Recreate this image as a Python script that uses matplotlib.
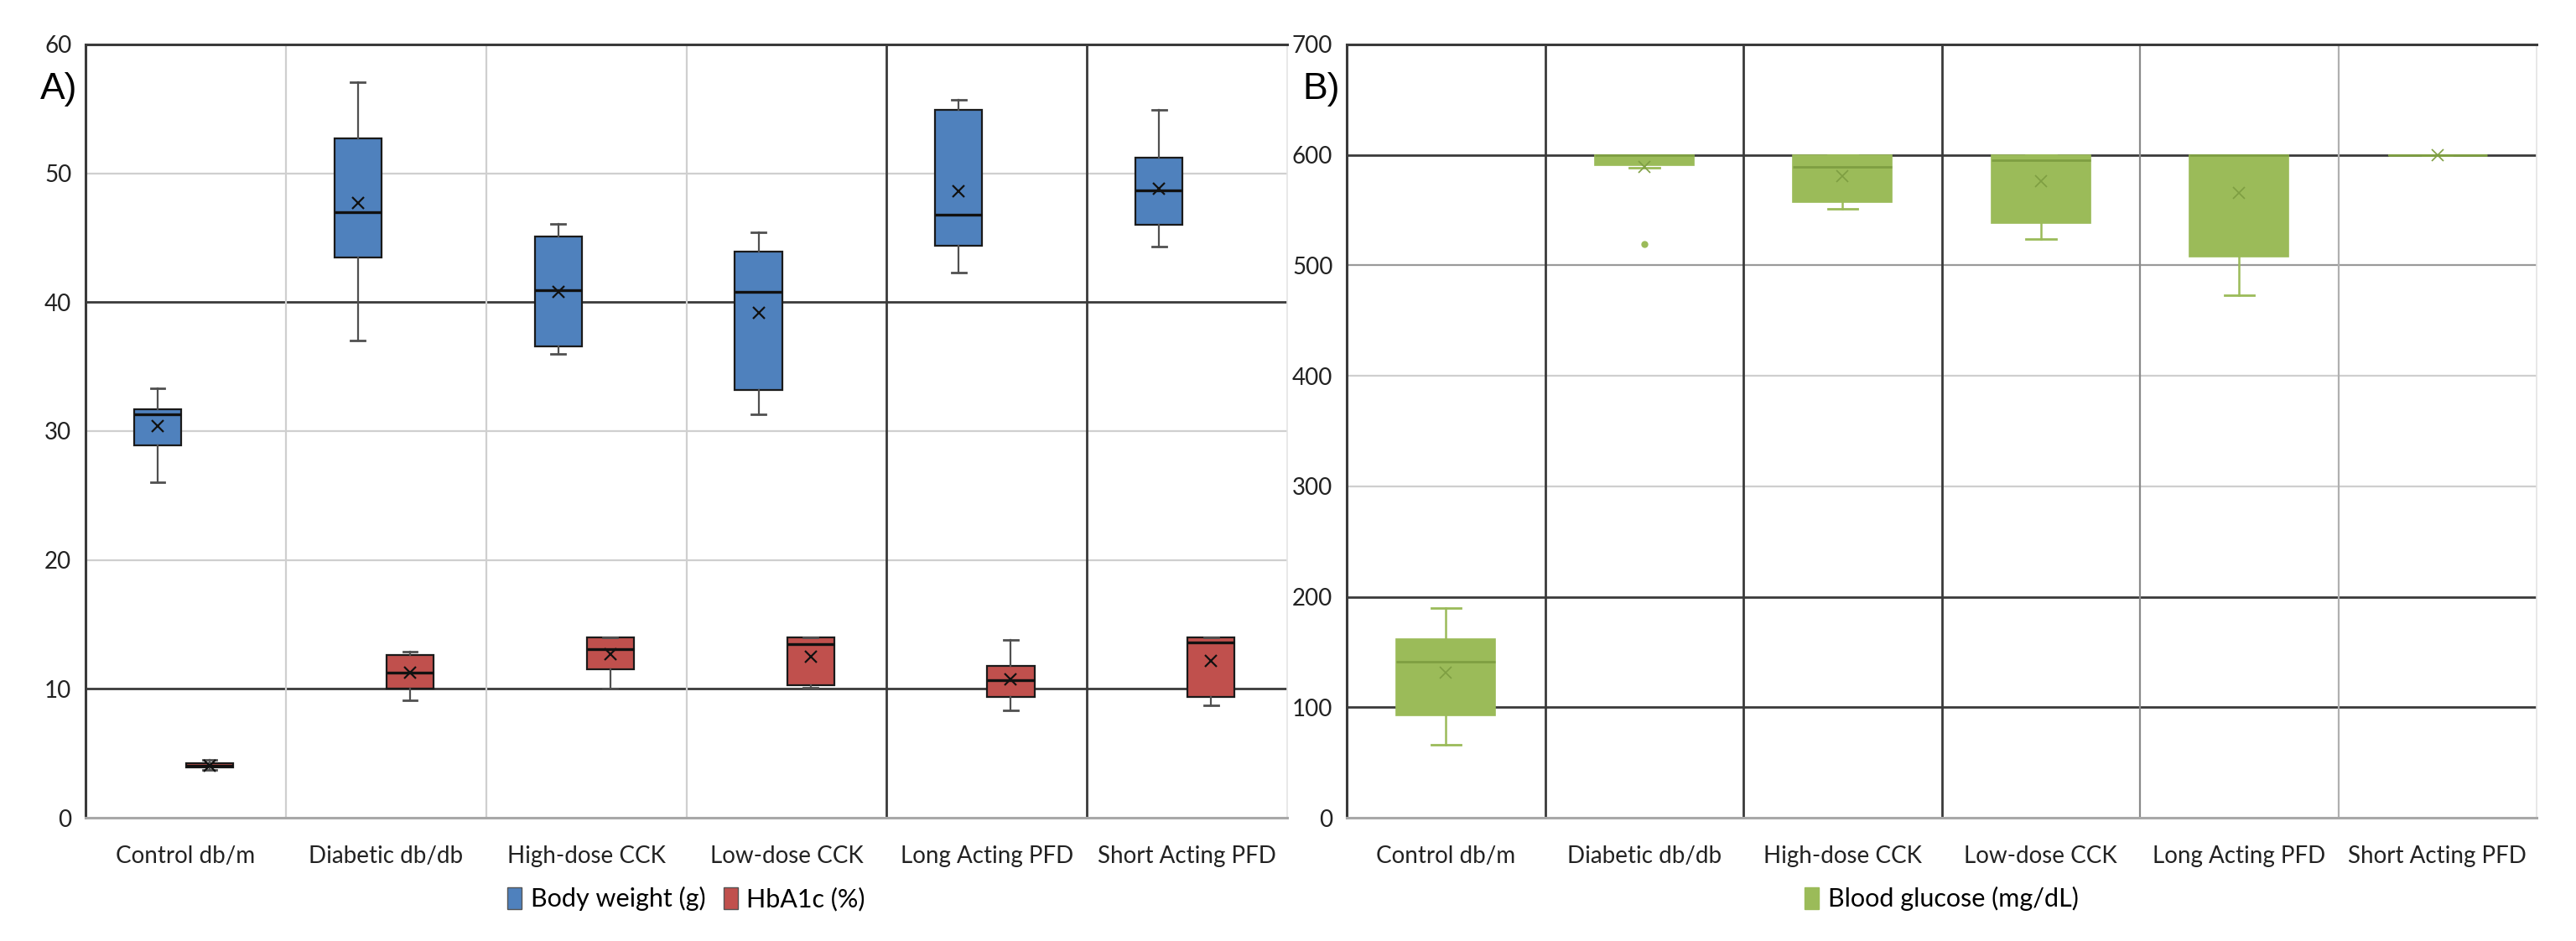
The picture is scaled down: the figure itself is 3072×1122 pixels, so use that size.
import matplotlib
matplotlib.use("Agg")
import matplotlib.pyplot as plt
from matplotlib.patches import Patch

plt.rcParams["font.family"] = ["Lato", "DejaVu Sans"]

GROUPS = ["Control db/m", "Diabetic db/db", "High-dose CCK",
          "Low-dose CCK", "Long Acting PFD", "Short Acting PFD"]

# panel A - body weight (g)
bw_whislo = [26.0, 37.0, 36.0, 31.3, 42.3, 44.3]
bw_q1 = [28.9, 43.5, 36.6, 33.2, 44.4, 46.0]
bw_med = [31.3, 47.0, 40.9, 40.8, 46.8, 48.7]
bw_q3 = [31.7, 52.7, 45.1, 43.9, 54.9, 51.2]
bw_whishi = [33.3, 57.1, 46.1, 45.4, 55.7, 54.9]
bw_mean = [30.4, 47.7, 40.8, 39.2, 48.6, 48.8]

# panel A - HbA1c (%)
hb_whislo = [3.7, 9.1, 10.0, 10.1, 8.35, 8.7]
hb_q1 = [3.9, 10.0, 11.55, 10.3, 9.4, 9.4]
hb_med = [4.05, 11.25, 13.1, 13.45, 10.7, 13.6]
hb_q3 = [4.2, 12.6, 14.0, 14.0, 11.8, 14.0]
hb_whishi = [4.5, 12.9, 14.0, 14.0, 13.8, 14.0]
hb_mean = [4.05, 11.25, 12.7, 12.5, 10.75, 12.2]

# panel B - blood glucose (mg/dL), meter tops out at 600
bg_whislo = [66, 588, 551, 524, 473, 600]
bg_q1 = [93, 591, 557, 538, 508, 600]
bg_med = [141, 600, 589, 595.5, 600, 600]
bg_q3 = [162, 600, 600, 600, 600, 600]
bg_whishi = [189.5, 600, 600, 600, 600, 600]
bg_mean = [131.6, 589, 581, 576, 565.6, 600]
bg_fliers = [[], [519], [], [], [], []]

A_YTICKS = [0, 10, 20, 30, 40, 50, 60]
B_YTICKS = [0, 100, 200, 300, 400, 500, 600, 700]

BLUE = "#4F81BD"
RED = "#C0504D"
GREEN = "#9BBB59"
GREEN_DARK = "#7E9E42"
DARK = "#3a3a3a"
LIGHT = "#cfcfcf"

# the scanned figure has an odd mix of dark and pale grid lines; copy it
A_HGRID = {10: DARK, 20: LIGHT, 30: LIGHT, 40: DARK, 50: LIGHT}
A_VGRID = [LIGHT, LIGHT, LIGHT, DARK, DARK]
B_HGRID = {100: DARK, 200: DARK, 300: LIGHT, 400: LIGHT, 500: "#9a9a9a", 600: DARK}
B_VGRID = [DARK, DARK, DARK, "#8a8a8a", "#b0b0b0"]


def make_stats(lo, q1, med, q3, hi, mean, fliers=None):
    stats = []
    for i in range(len(lo)):
        stats.append(dict(whislo=lo[i], q1=q1[i], med=med[i], q3=q3[i], whishi=hi[i],
                          mean=mean[i], fliers=fliers[i] if fliers else []))
    return stats


def style_axes(ax, yticks, hgrid, vgrid, top_color):
    n = len(GROUPS)
    ax.set_xlim(-0.5, n - 0.5)
    ax.set_ylim(yticks[0], yticks[-1])
    for y, c in hgrid.items():
        ax.axhline(y, color=c, lw=2 if c == DARK else 1.6, zorder=0)
    for i, c in enumerate(vgrid):
        ax.axvline(i + 0.5, color=c, lw=2 if c == DARK else 1.6, zorder=0)
    ax.set_xticks(range(n))
    ax.set_xticklabels(GROUPS)
    ax.set_yticks(yticks)
    ax.tick_params(axis="both", length=0, labelsize=20, colors="#222222")
    ax.tick_params(axis="x", pad=24)
    ax.tick_params(axis="y", pad=12)
    ax.spines["left"].set_color(DARK)
    ax.spines["left"].set_linewidth(2.2)
    ax.spines["top"].set_color(top_color)
    ax.spines["top"].set_linewidth(2.2)
    ax.spines["bottom"].set_color("#a8a8a8")
    ax.spines["bottom"].set_linewidth(2.2)
    ax.spines["right"].set_color("#e4e4e4")
    ax.spines["right"].set_linewidth(1.2)


fig = plt.figure(figsize=(30.72, 11.22), dpi=100)
ax_a = fig.add_axes([0.0332, 0.131, 0.4665, 0.8218])
ax_b = fig.add_axes([0.5228, 0.131, 0.4619, 0.8218])

# ---- A) body weight + HbA1c
style_axes(ax_a, A_YTICKS, A_HGRID, A_VGRID, DARK)
pos = range(len(GROUPS))
for stats, off, color in [
        (make_stats(bw_whislo, bw_q1, bw_med, bw_q3, bw_whishi, bw_mean), -0.14, BLUE),
        (make_stats(hb_whislo, hb_q1, hb_med, hb_q3, hb_whishi, hb_mean), 0.12, RED)]:
    ax_a.bxp(stats, positions=[p + off for p in pos], widths=0.235, capwidths=0.07,
             patch_artist=True, showmeans=True, manage_ticks=False,
             boxprops=dict(facecolor=color, edgecolor="#1a1a1a", linewidth=1.6),
             medianprops=dict(color="#111111", linewidth=2.4),
             whiskerprops=dict(color="#505050", linewidth=1.6),
             capprops=dict(color="#505050", linewidth=2),
             meanprops=dict(marker="x", markersize=10, markeredgecolor="#111111",
                            markeredgewidth=1.6))
ax_a.legend(handles=[Patch(facecolor=BLUE, edgecolor="#555555", label="Body weight (g)"),
                     Patch(facecolor=RED, edgecolor="#555555", label="HbA1c (%)")],
            loc="center", bbox_to_anchor=(0.5, -0.105), ncol=2, frameon=False,
            fontsize=22, handlelength=0.55, handleheight=0.9, handletextpad=0.35,
            columnspacing=0.7)
fig.text(0.0155, 0.905, "A)", fontsize=32, family=["Liberation Sans", "DejaVu Sans"],
         va="center")

# ---- B) blood glucose
style_axes(ax_b, B_YTICKS, B_HGRID, B_VGRID, DARK)
ax_b.bxp(make_stats(bg_whislo, bg_q1, bg_med, bg_q3, bg_whishi, bg_mean, bg_fliers),
         positions=list(pos), widths=0.5, capwidths=0.15,
         patch_artist=True, showmeans=True, manage_ticks=False,
         boxprops=dict(facecolor=GREEN, edgecolor=GREEN, linewidth=1.2),
         medianprops=dict(color=GREEN_DARK, linewidth=2),
         whiskerprops=dict(color=GREEN, linewidth=1.8),
         capprops=dict(color=GREEN, linewidth=2),
         flierprops=dict(marker="o", markersize=5, markerfacecolor=GREEN,
                         markeredgecolor=GREEN),
         meanprops=dict(marker="x", markersize=10, markeredgecolor=GREEN_DARK,
                        markeredgewidth=1.2))
ax_b.legend(handles=[Patch(facecolor=GREEN, edgecolor=GREEN, label="Blood glucose (mg/dL)")],
            loc="center", bbox_to_anchor=(0.5, -0.105), frameon=False,
            fontsize=22, handlelength=0.55, handleheight=0.9, handletextpad=0.35)
fig.text(0.5055, 0.905, "B)", fontsize=32, family=["Liberation Sans", "DejaVu Sans"],
         va="center")

fig.savefig("out.png", dpi=100, facecolor="white")
